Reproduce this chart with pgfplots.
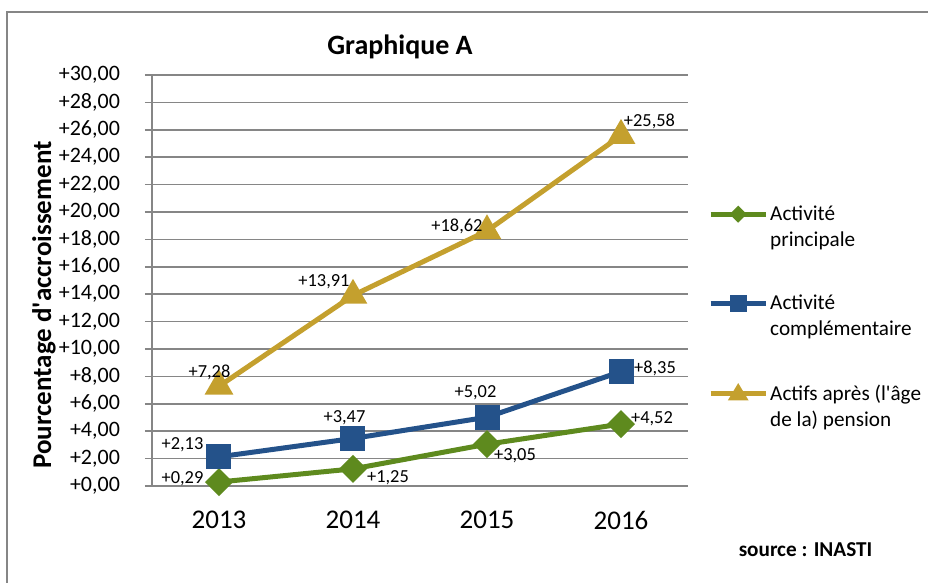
\documentclass[border=0pt]{standalone}
\usepackage{fontspec}
\setmainfont{Carlito}
\usepackage{pgfplots}
\usepackage{pgfplotstable}
\pgfplotsset{compat=1.18}

\definecolor{cGreen}{RGB}{94,138,30}
\definecolor{cBlue}{RGB}{36,82,138}
\definecolor{cGold}{RGB}{196,160,46}
\definecolor{cGrid}{RGB}{134,134,134}

% x  y  label  label offset (pt)
\pgfplotstableread{
x    y     lab    dx     dy
2013 0.29  +0,29  -18.25 1.5
2014 1.25  +1,25  17.5   -4.5
2015 3.05  +3,05  14     -5.5
2016 4.52  +4,52  15.5   2.5
}\principale
\pgfplotstableread{
x    y     lab    dx     dy
2013 2.13  +2,13  -18.25 6
2014 3.47  +3,47  -4.25  10.5
2015 5.02  +5,02  -5.75  12.3
2016 8.35  +8,35  17     1.8
}\complementaire
\pgfplotstableread{
x    y     lab     dx     dy
2013 7.28  +7,28   -4.75  6.9
2014 13.91 +13,91  -14.5  6.7
2015 18.62 +18,62  -15    2.5
2016 25.58 +25,58  14.25  7.25
}\pension

% legend image: colour, small marker path around (13.75pt,6.5pt)
\newcommand\legimg[2]{%
  \draw[#1, line width=2.5pt] (0pt,6.5pt) -- (27.5pt,6.5pt);
  \fill[#1] #2;%
}

\begin{document}
\begin{tikzpicture}
\useasboundingbox (-76pt,-48.5pt) rectangle (388pt,243pt);
\draw[cGrid, line width=1pt] (-72.5pt,-50pt) -- (-72.5pt,236.75pt) -- (390pt,236.75pt);
\begin{axis}[
    scale only axis,
    width=268pt, height=205.5pt,
    at={(0pt,0pt)}, anchor=south west,
    xmin=2012.5, xmax=2016.5,
    ymin=0, ymax=30,
    xtick={2013,2014,2015,2016},
    xticklabels={2013,2014,2015,2016},
    ytick={0,2,...,30},
    yticklabel={+\pgfmathprintnumber[fixed,fixed zerofill,precision=2,use comma]{\tick}},
    /pgf/number format/assume math mode=true,
    axis lines*=left,
    axis line style={cGrid, line width=0.75pt},
    ymajorgrids,
    grid style={cGrid, line width=0.75pt},
    xtick style={draw=none},
    ytick style={cGrid, line width=0.75pt},
    tick align=outside,
    major tick length=3.5pt,
    xticklabel style={font=\fontsize{13.5}{16}\selectfont, yshift=-5.5pt},
    yticklabel style={font=\fontsize{11}{13}\selectfont, xshift=-9pt},
    ylabel={Pourcentage d\textquotesingle accroissement},
    ylabel style={font=\bfseries\fontsize{13.5}{16}\selectfont, at={(axis description cs:-0.2015,0.4404)}, anchor=center},
    clip=false,
    nodes near coords,
    point meta=explicit symbolic,
    visualization depends on={\thisrow{dx} \as \labdx},
    visualization depends on={\thisrow{dy} \as \labdy},
    nodes near coords style={anchor=center, xshift=\labdx pt, yshift=\labdy pt, text=black, font=\fontsize{9.2}{11}\selectfont, inner sep=0pt},
    legend cell align=left,
    legend style={draw=none, fill=none, at={(1.037,0.6886)}, anchor=north west, inner sep=0pt, row sep=21pt, column sep=0pt,
      nodes={align=left, font=\fontsize{10.6}{13}\selectfont, inner sep=1pt}},
]
\addplot[cGreen, line width=2.5pt, mark=square*, mark size=3.7pt, mark options={rotate=45, solid, fill=cGreen},
    legend image code/.code={\legimg{cGreen}{(11.25pt,6.5pt) -- (13.75pt,9pt) -- (16.25pt,6.5pt) -- (13.75pt,4pt) -- cycle}}]
    table[x=x, y=y, meta=lab] {\principale};
\addlegendentry{Activité\\principale}
\addplot[cBlue, line width=2.5pt, mark=square*, mark size=5pt, mark options={solid, fill=cBlue},
    legend image code/.code={\legimg{cBlue}{(10.75pt,3.5pt) rectangle (16.75pt,9.5pt)}}]
    table[x=x, y=y, meta=lab] {\complementaire};
\addlegendentry{Activité\\complémentaire}
\addplot[cGold, line width=2.5pt, mark=triangle*, mark size=5.8pt, mark options={solid, fill=cGold},
    legend image code/.code={\legimg{cGold}{(10.75pt,4.5pt) -- (13.75pt,9.5pt) -- (16.75pt,4.5pt) -- cycle}}]
    table[x=x, y=y, meta=lab] {\pension};
\addlegendentry{Actifs après (l\textquotesingle âge\\de la) pension}
\end{axis}
\node[font=\bfseries\fontsize{14}{17}\selectfont] at (124pt,219.5pt) {Graphique A};
\node[font=\bfseries\fontsize{10.6}{13}\selectfont] at (326.75pt,-32pt) {source : INASTI};
\end{tikzpicture}
\end{document}
